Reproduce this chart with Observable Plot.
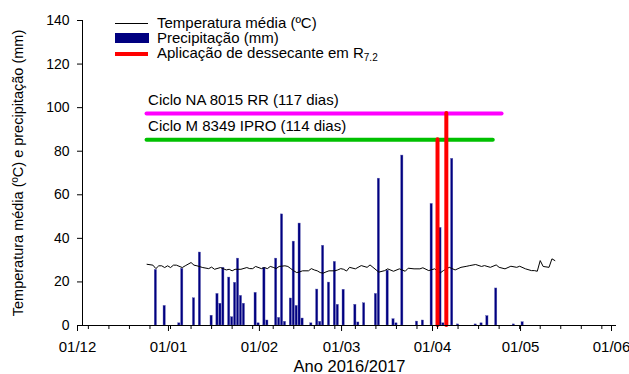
<!DOCTYPE html>
<html><head><meta charset="utf-8">
<script src="https://cdn.jsdelivr.net/npm/d3@7"></script>
<script src="https://cdn.jsdelivr.net/npm/@observablehq/plot@0.6"></script>
<style>
body{margin:0;background:#fff;}
#chart{position:relative;width:629px;height:374px;}
</style></head><body><div id="chart"></div>
<script>
// ---- data ----
const precipDates = ["2016-12-26","2016-12-29","2017-01-03","2017-01-04","2017-01-08","2017-01-10","2017-01-14","2017-01-16","2017-01-17","2017-01-18","2017-01-20","2017-01-21","2017-01-22","2017-01-23","2017-01-24","2017-01-25","2017-01-29","2017-01-30","2017-02-01","2017-02-02","2017-02-05","2017-02-06","2017-02-07","2017-02-08","2017-02-10","2017-02-11","2017-02-12","2017-02-13","2017-02-14","2017-02-17","2017-02-19","2017-02-20","2017-02-21","2017-02-23","2017-02-25","2017-02-26","2017-02-28","2017-03-04","2017-03-05","2017-03-07","2017-03-11","2017-03-12","2017-03-15","2017-03-17","2017-03-18","2017-03-20","2017-03-25","2017-03-27","2017-03-30","2017-04-02","2017-04-03","2017-04-06","2017-04-08","2017-04-14","2017-04-16","2017-04-18","2017-04-21","2017-04-27","2017-04-30"];
const precipValues = [25.5,9,1,26,12.5,33.5,4.5,14.5,10,26.5,22,3.8,19.6,30.7,13.6,10,15,1,26.5,2.3,30.7,3.5,51,1.7,12.4,38.5,9,46.8,3.2,1,16.5,1.7,36.6,19.7,29.2,9.5,16.4,9.5,1.4,10.2,14.5,67.4,25.2,2.9,1,78,1.8,2.3,55.8,44.8,1,76.5,0.5,0.5,1,4.3,17,0.5,1.5];

const tempDates = ["2016-12-23","2016-12-25","2016-12-26","2016-12-27","2016-12-28","2016-12-29","2016-12-30","2016-12-31","2017-01-01","2017-01-02","2017-01-04","2017-01-05","2017-01-07","2017-01-08","2017-01-09","2017-01-11","2017-01-13","2017-01-14","2017-01-15","2017-01-17","2017-01-19","2017-01-20","2017-01-21","2017-01-22","2017-01-24","2017-01-26","2017-01-27","2017-01-28","2017-01-29","2017-01-31","2017-02-01","2017-02-02","2017-02-03","2017-02-04","2017-02-05","2017-02-06","2017-02-08","2017-02-09","2017-02-10","2017-02-11","2017-02-12","2017-02-13","2017-02-14","2017-02-16","2017-02-17","2017-02-18","2017-02-19","2017-02-20","2017-02-21","2017-02-22","2017-02-23","2017-02-25","2017-02-26","2017-02-27","2017-02-28","2017-03-01","2017-03-02","2017-03-04","2017-03-06","2017-03-08","2017-03-09","2017-03-10","2017-03-12","2017-03-14","2017-03-15","2017-03-17","2017-03-19","2017-03-21","2017-03-22","2017-03-24","2017-03-26","2017-03-27","2017-03-29","2017-03-31","2017-04-02","2017-04-03","2017-04-05","2017-04-07","2017-04-09","2017-04-11","2017-04-12","2017-04-14","2017-04-16","2017-04-17","2017-04-19","2017-04-21","2017-04-22","2017-04-24","2017-04-26","2017-04-28","2017-04-29","2017-05-01","2017-05-03","2017-05-04","2017-05-05","2017-05-06","2017-05-07","2017-05-09","2017-05-10","2017-05-11"];
const tempValues = [28.1,27.7,26.1,27.4,27.4,26.6,27.4,26.6,27.7,27.7,26.6,27.4,28.9,27.7,27.4,26.6,26.1,26.8,25.8,26.6,25.5,25.8,25.1,25.8,25.8,26.6,26.1,26.1,27.1,26.1,26.6,26.1,27.1,26.7,26.1,27.1,27.4,27.1,26.1,25.1,24.3,24.6,25.1,25.1,26.1,25.5,25.1,24.3,24.0,24.6,25.1,25.1,25.5,26.1,25.8,25.0,26.7,26.0,27.5,26.7,27.8,26.7,24.5,25.2,26.0,24.9,26.0,24.9,26.3,26.0,26.0,26.5,25.2,26.0,24.2,25.2,26.7,25.5,26.7,27.2,27.5,28.0,27.1,27.5,26.7,27.8,26.7,26.0,27.2,26.7,27.2,26.0,25.2,25.2,24.9,29.8,27.1,26.7,30.6,29.8];

const cycleLabels = ["Ciclo NA 8015 RR (117 dias)", "Ciclo M 8349 IPRO (114 dias)"];
const cycleStarts = ["2016-12-23", "2016-12-23"];
const cycleEnds = ["2017-04-23", "2017-04-20"];
const cycleLevels = [97.3, 85.3];
const cycleColors = ["#ff00ff", "#00c000"];

const sprayDates = ["2017-04-01", "2017-04-04"];
const sprayLevels = [85.3, 97.3];

const monthTicks = ["2016-12-01","2017-01-01","2017-02-01","2017-03-01","2017-04-01","2017-05-01","2017-06-01"];
const monthLabels = ["01/12","01/01","01/02","01/03","01/04","01/05","01/06"];
const yTicks = [0, 20, 40, 60, 80, 100, 120, 140];

const legendLabels = ["Temperatura média (ºC)", "Precipitação (mm)", "Aplicação de dessecante em R"];
const legendSub = "7.2";
const xTitle = "Ano 2016/2017";
const yTitle = "Temperatura média (ºC) e precipitação (mm)";

// ---- build ----
const DAY = 864e5;
const parse = s => new Date(s + "T00:00:00Z");
const precip = precipDates.map((d, i) => ({date: parse(d), value: precipValues[i]}));
const temp = tempDates.map((d, i) => ({date: parse(d), value: tempValues[i]}));
const cycles = cycleLabels.map((l, i) => ({label: l, start: parse(cycleStarts[i]), end: parse(cycleEnds[i]), level: cycleLevels[i], color: cycleColors[i]}));
const sprays = sprayDates.map((d, i) => ({date: parse(d), level: sprayLevels[i]}));
const monthDates = monthTicks.map(parse);
const labelMap = new Map(monthDates.map((d, i) => [+d, monthLabels[i]]));
const x0 = monthDates[0], x1 = monthDates[monthDates.length - 1];
const weekTicks = d3.utcSaturday.range(x0, x1);

const font = "'Liberation Sans', Arial, sans-serif";

const chart = Plot.plot({
  width: 629, height: 374,
  marginLeft: 82, marginRight: 13, marginTop: 20, marginBottom: 49,
  style: {fontFamily: font, fontSize: "14px", background: "white", color: "black", overflow: "visible"},
  x: {type: "utc", domain: [x0, x1]},
  y: {domain: [0, 140]},
  color: {type: "identity"},
  marks: [
    Plot.rectY(precip, {
      x1: d => new Date(+d.date - 0.38 * DAY),
      x2: d => new Date(+d.date + 0.38 * DAY),
      y: "value", fill: "#000080", stroke: "#5a5ab0", strokeWidth: 0.4
    }),
    Plot.line(temp, {x: "date", y: "value", stroke: "black", strokeWidth: 1}),
    Plot.ruleY(cycles, {x1: "start", x2: "end", y: "level", stroke: "color", strokeWidth: 4, strokeLinecap: "round"}),
    Plot.text(cycles, {x: "start", y: "level", text: "label", textAnchor: "start", lineAnchor: "middle", dx: 1, dy: -13, fill: "black", fontSize: 15}),
    Plot.ruleX(sprays, {x: "date", y1: 0, y2: "level", stroke: "#ff0000", strokeWidth: 4, strokeLinecap: "round"}),
    Plot.ruleX([x0], {stroke: "black", strokeWidth: 1}),
    Plot.ruleY([0], {stroke: "black", strokeWidth: 1}),
    Plot.axisY({ticks: yTicks, tickSize: 5, tickPadding: 8, label: null, fontSize: 14}),
    Plot.axisX({ticks: monthDates, tickFormat: d => labelMap.get(+d), tickSize: 6, tickPadding: 10, label: null, fontSize: 15, dx: -5}),
    Plot.axisX({ticks: weekTicks, tickFormat: () => "", tickSize: 4, label: null}),
    Plot.text([xTitle], {frameAnchor: "bottom", dy: 41, lineAnchor: "middle", fontSize: 16.5}),
    Plot.text([yTitle], {frameAnchor: "left", dx: -64, rotate: -90, lineAnchor: "middle", textAnchor: "middle", fontSize: 14.5})
  ]
});
document.getElementById("chart").appendChild(chart);

// ---- legend (layout only) ----
const svg = d3.select(chart);
const lg = svg.append("g").attr("font-family", font).attr("font-size", 15).attr("fill", "black").attr("text-anchor", "start");
lg.append("line").attr("x1", 115).attr("x2", 148).attr("y1", 23.5).attr("y2", 23.5).attr("stroke", "black").attr("stroke-width", 1);
lg.append("text").attr("x", 157).attr("y", 27.5).text(legendLabels[0]);
lg.append("rect").attr("x", 115).attr("y", 33).attr("width", 34).attr("height", 10).attr("fill", "#000080");
lg.append("text").attr("x", 157).attr("y", 42.5).text(legendLabels[1]);
lg.append("line").attr("x1", 115).attr("x2", 148).attr("y1", 54).attr("y2", 54).attr("stroke", "#ff0000").attr("stroke-width", 4);
const t3 = lg.append("text").attr("x", 157).attr("y", 57.5).text(legendLabels[2]);
t3.append("tspan").attr("font-size", 10).attr("dy", 3).text(legendSub);
</script>
</body></html>
